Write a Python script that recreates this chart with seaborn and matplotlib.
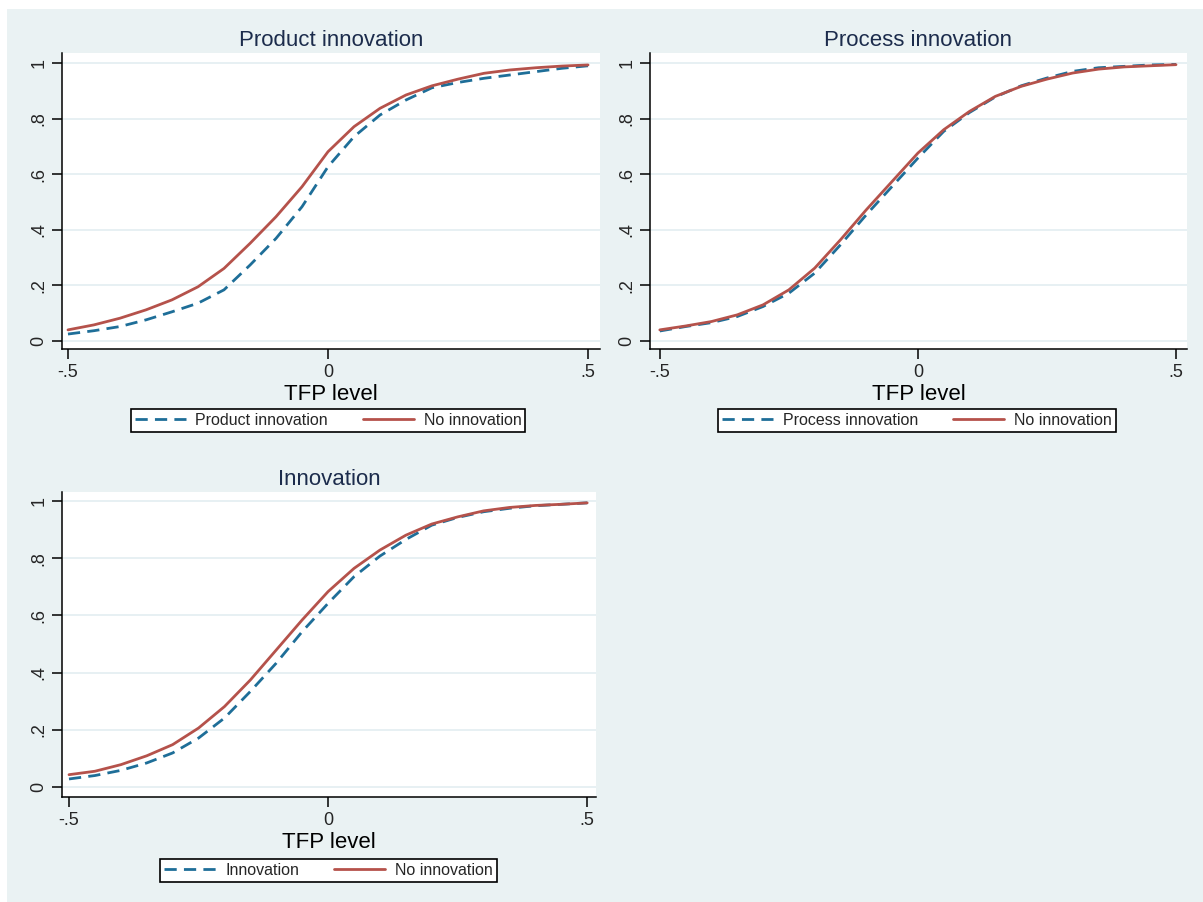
import matplotlib
matplotlib.use("Agg")
import matplotlib.pyplot as plt
from matplotlib.patches import Rectangle
import seaborn as sns

# TFP grid
TFP = [-0.50, -0.45, -0.40, -0.35, -0.30, -0.25, -0.20, -0.15, -0.10, -0.05,
       0.00, 0.05, 0.10, 0.15, 0.20, 0.25, 0.30, 0.35, 0.40, 0.45, 0.50]

# cumulative shares
product_yes = [0.025, 0.037, 0.052, 0.076, 0.105, 0.136, 0.184, 0.273, 0.369, 0.483,
               0.627, 0.735, 0.813, 0.867, 0.911, 0.930, 0.945, 0.957, 0.969, 0.981, 0.990]
product_no = [0.040, 0.058, 0.082, 0.112, 0.148, 0.195, 0.261, 0.351, 0.447, 0.555,
              0.681, 0.771, 0.837, 0.885, 0.918, 0.942, 0.963, 0.975, 0.983, 0.989, 0.993]

process_yes = [0.036, 0.052, 0.066, 0.088, 0.124, 0.172, 0.244, 0.346, 0.454, 0.556,
               0.658, 0.754, 0.822, 0.878, 0.918, 0.946, 0.970, 0.983, 0.988, 0.993, 0.995]
process_no = [0.040, 0.054, 0.070, 0.094, 0.130, 0.184, 0.262, 0.364, 0.472, 0.574,
              0.676, 0.760, 0.826, 0.880, 0.916, 0.942, 0.964, 0.978, 0.986, 0.990, 0.994]

innov_yes = [0.028, 0.040, 0.058, 0.084, 0.119, 0.171, 0.241, 0.334, 0.433, 0.543,
             0.642, 0.735, 0.807, 0.865, 0.915, 0.942, 0.962, 0.974, 0.983, 0.988, 0.993]
innov_no = [0.043, 0.055, 0.078, 0.109, 0.148, 0.206, 0.281, 0.374, 0.479, 0.584,
            0.683, 0.764, 0.828, 0.880, 0.919, 0.944, 0.965, 0.977, 0.984, 0.988, 0.993]

TITLES = ["Product innovation", "Process innovation", "Innovation"]
XTICKS = [-0.5, 0, 0.5]
XTICKLABELS = ["-.5", "0", ".5"]
YTICKS = [0, 0.2, 0.4, 0.6, 0.8, 1.0]
YTICKLABELS = ["0", ".2", ".4", ".6", ".8", "1"]

BLUE = "#1E6E98"
RED = "#B5524B"
BG = "#EAF2F3"
W, H = 1203, 902

sns.set_style("ticks")
plt.rcParams["font.family"] = ["Liberation Sans", "DejaVu Sans"]

fig = plt.figure(figsize=(W / 100, H / 100), dpi=100, facecolor="white")
fig.patches.append(Rectangle((7 / W, 0), 1, 1 - 9 / H, transform=fig.transFigure,
                             facecolor=BG, edgecolor="none", zorder=-10))


def px_rect(l, r, t, b):
    return [l / W, 1 - b / H, (r - l) / W, (b - t) / H]


# (series yes, series no, axes box px, xlim, ylim, xlabel y px, legend centre px)
panels = [
    (product_yes, product_no, (62, 600, 53, 349), (-0.5115, 0.523), (-0.0288, 1.036), 395, (328, 420.5)),
    (process_yes, process_no, (650, 1187, 53, 349), (-0.519, 0.5213), (-0.0288, 1.036), 395, (917, 420.5)),
    (innov_yes, innov_no, (62, 596, 492, 797), (-0.5135, 0.517), (-0.035, 1.031), 843, (328.5, 870.5)),
]

for title, (yes, no, box, xlim, ylim, lab_y, leg_c) in zip(TITLES, panels):
    ax = fig.add_axes(px_rect(*box))
    ax.set_facecolor("white")
    sns.lineplot(x=TFP, y=yes, ax=ax, color=BLUE, linewidth=2.0,
                 linestyle=(0, (4.4, 2.6)), label=title)
    sns.lineplot(x=TFP, y=no, ax=ax, color=RED, linewidth=2.0, label="No innovation")
    ax.set_xlim(*xlim)
    ax.set_ylim(*ylim)
    ax.set_xticks(XTICKS)
    ax.set_xticklabels(XTICKLABELS)
    ax.set_yticks(YTICKS)
    ax.set_yticklabels(YTICKLABELS, rotation=90, va="center")
    ax.tick_params(axis="both", length=7, width=1.1, color="black", labelsize=13, pad=3.5)
    ax.yaxis.grid(True, color="#E3EEF1", linewidth=1.2)
    ax.xaxis.grid(False)
    ax.set_axisbelow(True)
    for side in ("top", "right"):
        ax.spines[side].set_visible(False)
    for side in ("left", "bottom"):
        ax.spines[side].set_color("black")
        ax.spines[side].set_linewidth(1.1)
    ax.set_title(title, fontsize=16, color="#1C2C4C", pad=5)
    ax.set_xlabel("TFP level", fontsize=16, color="black")
    ax.xaxis.set_label_coords(0.5, -(lab_y - box[3]) / (box[3] - box[2]))
    ax.xaxis.label.set_va("center")
    ax.set_ylabel("")
    handles, labels = ax.get_legend_handles_labels()
    leg = ax.legend(handles, labels, loc="center",
                    bbox_to_anchor=(leg_c[0] / W, 1 - leg_c[1] / H),
                    bbox_transform=fig.transFigure, ncol=2, frameon=True,
                    fancybox=False, edgecolor="black", framealpha=1,
                    fontsize=11.5, handlelength=3.2, handletextpad=0.6,
                    columnspacing=2.2, borderpad=0.25)
    leg.get_frame().set_linewidth(1.2)

fig.savefig("out.png", dpi=100, facecolor=fig.get_facecolor())
